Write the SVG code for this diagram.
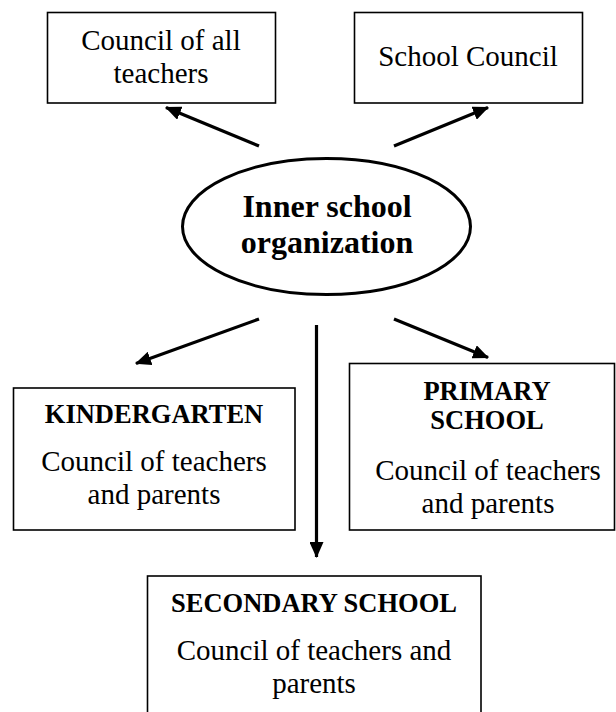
<svg xmlns="http://www.w3.org/2000/svg" width="616" height="712" viewBox="0 0 616 712">
<style>
.box{fill:#fff;stroke:#000;stroke-width:1.6}
.ell{fill:#fff;stroke:#000;stroke-width:3}
.t{font-size:29px}
.h{font-size:26.5px;font-weight:bold}
.c{font-size:32px;font-weight:bold}
.arr{stroke:#000;stroke-width:3.2;fill:none;marker-end:url(#ah)}
</style>
<defs>
<marker id="ah" viewBox="0 0 16 14" refX="15" refY="7" markerWidth="16" markerHeight="14" markerUnits="userSpaceOnUse" orient="auto">
<path d="M0,0 L16,7 L0,14 Z" fill="#000"/>
</marker>
</defs>
<rect width="616" height="712" fill="#fff"/>
<g id="connectors">
<line class="arr" x1="259" y1="146" x2="166" y2="107.5"/>
<line class="arr" x1="394" y1="146" x2="488" y2="107.5"/>
<line class="arr" x1="259" y1="319" x2="136" y2="363.5"/>
<line class="arr" x1="394" y1="319" x2="488" y2="357.5"/>
<line class="arr" x1="316.5" y1="325" x2="316.5" y2="557"/>
</g>
<g font-family="Liberation Serif, Times New Roman, DejaVu Serif, serif" text-anchor="middle" fill="#000">
<g id="council-all-teachers">
<rect class="box" x="47.5" y="12.5" width="228" height="90.5"/>
<text class="t" x="161" y="50">Council of all</text>
<text class="t" x="161" y="83">teachers</text>
</g>
<g id="school-council">
<rect class="box" x="354.5" y="12.5" width="228" height="90.5"/>
<text class="t" x="468" y="66">School Council</text>
</g>
<g id="inner-school">
<ellipse class="ell" cx="326.5" cy="226.5" rx="144" ry="68"/>
<text class="c" x="327" y="217">Inner school</text>
<text class="c" x="327" y="253">organization</text>
</g>
<g id="kindergarten">
<rect class="box" x="13.5" y="388" width="281.5" height="142"/>
<text class="h" x="154" y="423">KINDERGARTEN</text>
<text class="t" x="154" y="471">Council of teachers</text>
<text class="t" x="154" y="504">and parents</text>
</g>
<g id="primary">
<rect class="box" x="349.5" y="363.5" width="265" height="166.5"/>
<text class="h" x="487" y="400">PRIMARY</text>
<text class="h" x="487" y="429">SCHOOL</text>
<text class="t" x="488" y="480">Council of teachers</text>
<text class="t" x="488" y="513">and parents</text>
</g>
<g id="secondary">
<rect class="box" x="147.5" y="576" width="333.5" height="150"/>
<text class="h" x="314" y="612">SECONDARY SCHOOL</text>
<text class="t" x="314" y="660">Council of teachers and</text>
<text class="t" x="314" y="693">parents</text>
</g>
</g>
</svg>
